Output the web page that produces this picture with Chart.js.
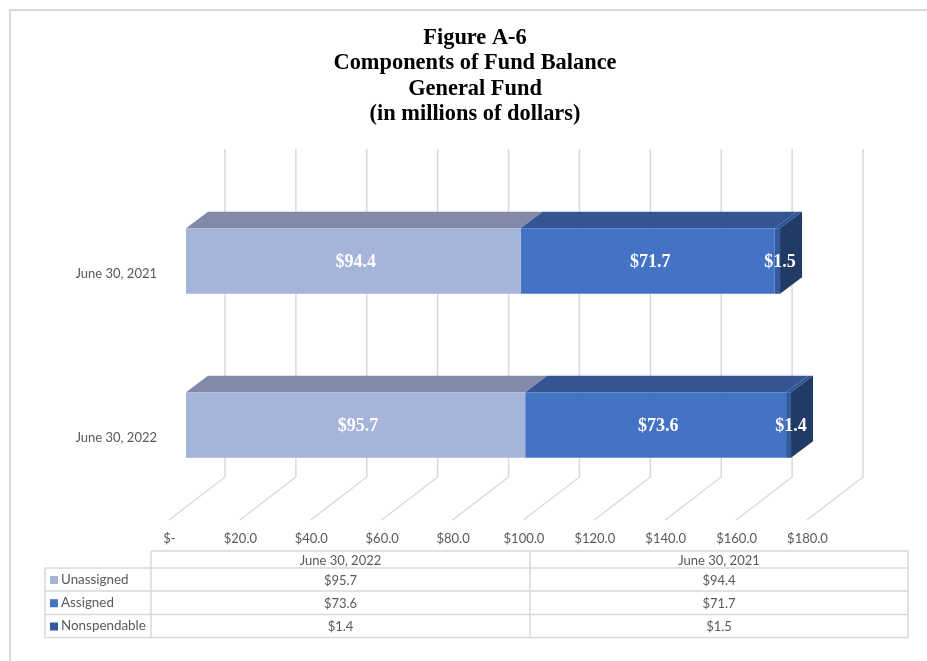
<!DOCTYPE html>
<html><head><meta charset="utf-8">
<style>html,body{margin:0;padding:0;background:#fff;overflow:hidden}canvas{display:block}</style>
<script src="https://cdn.jsdelivr.net/npm/chart.js@4"></script>
</head><body><canvas id="c" width="927" height="661"></canvas>
<script>
const categories = ['June 30, 2022', 'June 30, 2021'];
const unassigned = [95.7, 94.4];
const assigned = [73.6, 71.7];
const nonspendable = [1.4, 1.5];
const seriesNames = ['Unassigned', 'Assigned', 'Nonspendable'];
const frontColors = ['#A6B4DA', '#4472C4', '#335A9E'];
const topColors = ['#8289A9', '#335593', '#2F5597'];
const sideColor = '#213A66';
const titleLines = ['Figure A-6', 'Components of Fund Balance', 'General Fund', '(in millions of dollars)'];
const seriesValues = [unassigned, assigned, nonspendable];
const fmt = v => '$' + v.toFixed(1);
const GRID = '#D9D9D9', TEXT = '#595959';

const depthPlugin = {
  id: 'depth',
  afterLayout(chart) { chart.titleBlock.right = 950; },
  beforeDatasetsDraw(chart) {
    const {ctx, scales: {x}, chartArea: a} = chart;
    ctx.save();
    // frame
    ctx.strokeStyle = GRID; ctx.lineWidth = 2;
    ctx.beginPath(); ctx.moveTo(10, 661); ctx.lineTo(10, 10); ctx.lineTo(927, 10); ctx.stroke();
    // walls and floor
    ctx.lineWidth = 1.5;
    x.ticks.forEach(t => {
      const px = x.getPixelForValue(t.value);
      ctx.beginPath();
      ctx.moveTo(px + 39, a.top - 30);
      ctx.lineTo(px + 39, a.bottom - 30);
      ctx.lineTo(px - 17, a.bottom + 13);
      ctx.stroke();
    });
    // bar extrusions
    const dx = 22, dy = -16.5;
    seriesValues.forEach((vals, i) => {
      chart.getDatasetMeta(i).data.forEach(b => {
        const t = b.y - b.height / 2;
        ctx.fillStyle = topColors[i];
        ctx.beginPath();
        ctx.moveTo(b.base, t); ctx.lineTo(b.base + dx, t + dy);
        ctx.lineTo(b.x + dx, t + dy); ctx.lineTo(b.x, t);
        ctx.closePath(); ctx.fill();
        if (i === seriesValues.length - 1) {
          const bt = t + b.height;
          ctx.fillStyle = sideColor;
          ctx.beginPath();
          ctx.moveTo(b.x, t); ctx.lineTo(b.x + dx, t + dy);
          ctx.lineTo(b.x + dx, bt + dy); ctx.lineTo(b.x, bt);
          ctx.closePath(); ctx.fill();
        }
      });
    });
    ctx.restore();
  },
  afterDraw(chart) {
    const {ctx} = chart;
    ctx.save();
    // value labels
    ctx.fillStyle = '#fff'; ctx.font = 'bold 18px "Liberation Serif"';
    ctx.textAlign = 'center'; ctx.textBaseline = 'middle';
    seriesValues.forEach((vals, i) => {
      chart.getDatasetMeta(i).data.forEach((b, j) => {
        ctx.fillText(fmt(vals[j]), (b.x + b.base) / 2 + 2.5, b.y + 1.5);
      });
    });
    // data table
    const L = 45, C0 = 151, C1 = 530, R = 908;
    const rows = [551, 568, 591, 614.5, 637.5];
    ctx.strokeStyle = GRID; ctx.lineWidth = 1.5;
    ctx.beginPath();
    ctx.moveTo(C0, rows[0]); ctx.lineTo(R, rows[0]);
    for (let r = 1; r < rows.length; r++) { ctx.moveTo(L, rows[r]); ctx.lineTo(R, rows[r]); }
    ctx.moveTo(L, rows[1]); ctx.lineTo(L, rows[4]);
    [C0, C1, R].forEach(c => { ctx.moveTo(c, rows[0]); ctx.lineTo(c, rows[4]); });
    ctx.stroke();
    ctx.font = '13px Lato'; ctx.fillStyle = TEXT;
    const colMid = [(C0 + C1) / 2, (C1 + R) / 2];
    categories.forEach((c, j) => ctx.fillText(c, colMid[j], (rows[0] + rows[1]) / 2 + 1));
    seriesNames.forEach((n, i) => {
      const my = (rows[i + 1] + rows[i + 2]) / 2;
      ctx.fillStyle = frontColors[i];
      ctx.fillRect(50, my - 3.5, 8, 8);
      ctx.fillStyle = TEXT;
      ctx.textAlign = 'left';
      ctx.font = '13.4px Lato';
      ctx.fillText(n, 61, my);
      ctx.textAlign = 'center';
      ctx.font = '13px Lato';
      seriesValues[i].forEach((v, j) => ctx.fillText(fmt(v), colMid[j], my + 1));
    });
    ctx.restore();
  }
};

new Chart(document.getElementById('c'), {
  type: 'bar',
  data: {
    labels: categories,
    datasets: seriesNames.map((n, i) => ({
      label: n, data: seriesValues[i], backgroundColor: frontColors[i],
      borderWidth: 0, barPercentage: 0.4, categoryPercentage: 1
    }))
  },
  options: {
    indexAxis: 'y',
    responsive: false,
    animation: false,
    layout: {padding: {left: 0, right: 103, top: 0, bottom: 0}},
    plugins: {
      legend: {display: false},
      tooltip: {enabled: false},
      title: {
        display: true, text: titleLines, color: '#000',
        font: {family: '"Liberation Serif"', size: 22.4, weight: 'bold', lineHeight: 1.138},
        padding: {top: 25, bottom: 52}
      }
    },
    scales: {
      x: {
        stacked: true, min: 0, max: 180,
        grid: {display: false, drawTicks: false}, border: {display: false},
        afterFit: s => { s.height = 154; },
        ticks: {
          stepSize: 20, color: TEXT, font: {family: 'Lato', size: 13},
          padding: 24, labelOffset: -16.5, maxRotation: 0, autoSkip: false,
          callback: v => v === 0 ? '$-' : fmt(v)
        }
      },
      y: {
        stacked: true, reverse: true,
        grid: {display: false, drawTicks: false}, border: {display: false},
        afterFit: s => { s.width = 186; },
        ticks: {color: TEXT, font: {family: 'Lato', size: 13}, padding: 29, labelOffset: 12.5}
      }
    }
  },
  plugins: [depthPlugin]
});
</script></body></html>
